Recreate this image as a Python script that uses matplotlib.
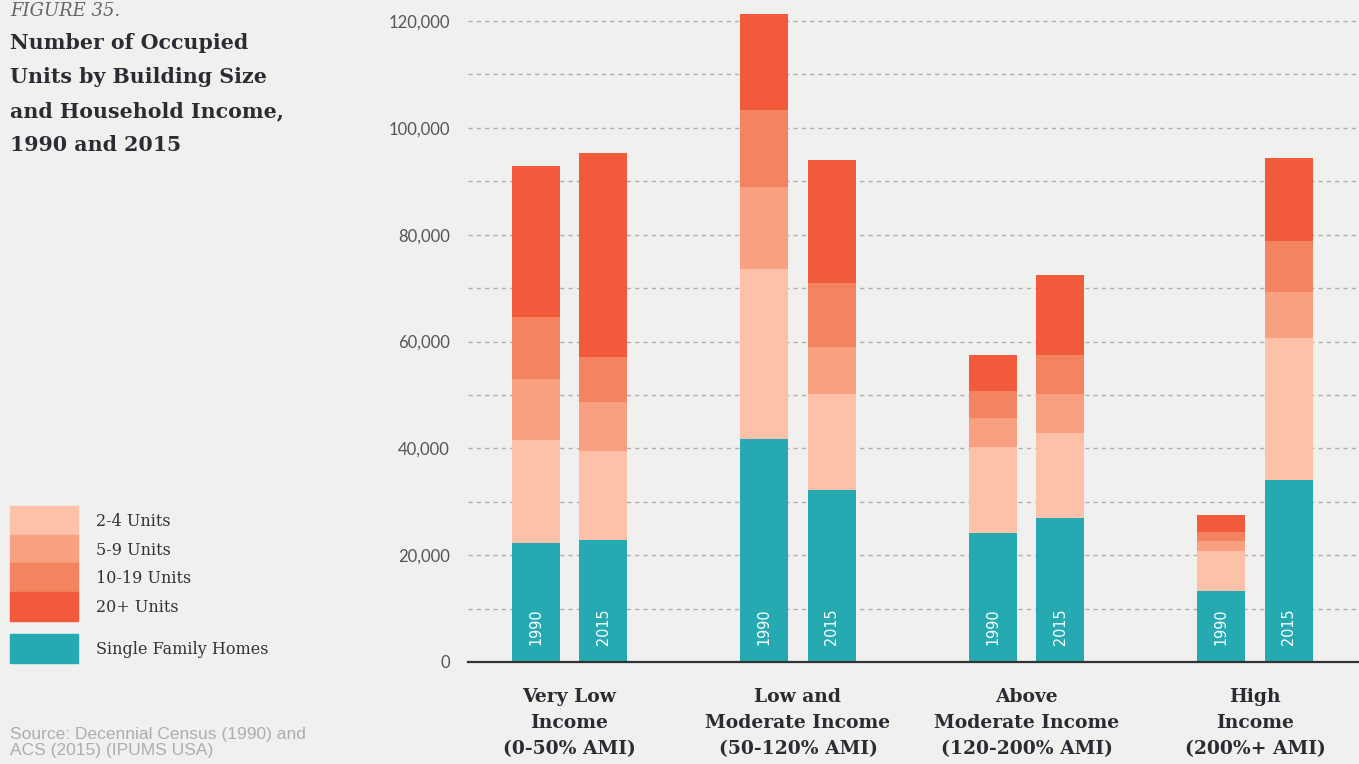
import numpy as np
import matplotlib
matplotlib.use('Agg')
import matplotlib.pyplot as plt
from matplotlib.patches import Rectangle

# Data
groups = ['Very Low\nIncome\n(0-50% AMI)', 'Low and\nModerate Income\n(50-120% AMI)',
          'Above\nModerate Income\n(120-200% AMI)', 'High\nIncome\n(200%+ AMI)']
years = ['1990', '2015']
series = ['Single Family Homes', '2-4 Units', '5-9 Units', '10-19 Units', '20+ Units']
colors = ['#26AAB2', '#FCC1A8', '#F8A080', '#F48460', '#F15A3B']

sf_1990 = [22300, 41700, 24200, 13300]
u24_1990 = [19300, 31800, 16100, 7500]
u59_1990 = [11400, 15400, 5400, 1900]
u1019_1990 = [11600, 14400, 5000, 1700]
u20_1990 = [28300, 18000, 6800, 3200]

sf_2015 = [22900, 32200, 27000, 34100]
u24_2015 = [16600, 17900, 15800, 26600]
u59_2015 = [9200, 8800, 7400, 8600]
u1019_2015 = [8400, 12100, 7300, 9600]
u20_2015 = [38200, 22900, 14900, 15500]

data = {
    '1990': [sf_1990, u24_1990, u59_1990, u1019_1990, u20_1990],
    '2015': [sf_2015, u24_2015, u59_2015, u1019_2015, u20_2015],
}

bg = '#F0F0EE'
fig = plt.figure(figsize=(13.59, 7.64), dpi=100, facecolor=bg)
ax = fig.add_axes([468 / 1359, 102 / 764, 891 / 1359, 657 / 764], facecolor=bg)

x = np.arange(len(groups))
width = 0.21
offsets = {'1990': -0.148, '2015': 0.148}

for yr in years:
    bottom = np.zeros(len(groups))
    for vals, c in zip(data[yr], colors):
        ax.bar(x + offsets[yr], vals, width, bottom=bottom, color=c, edgecolor='none', zorder=3)
        bottom += np.array(vals)
    for xi in x:
        ax.text(xi + offsets[yr], 6600, yr, rotation=90, ha='center', va='center',
                color='white', fontsize=11.5, family='DejaVu Sans', stretch='condensed', zorder=4)

ax.set_xlim(-0.444, 3.455)
ax.set_ylim(0, 123000)

yt = list(range(0, 130000, 10000))
ax.set_yticks(yt)
ax.set_yticklabels([f'{v:,}' if v % 20000 == 0 else '' for v in yt],
                   fontsize=12, color='#555555', family='Lato')
ax.tick_params(axis='y', length=0, pad=13)
for v in yt[1:]:
    ax.axhline(v, color='#AEAEAE', lw=1, ls=(0, (3, 3)), zorder=1)

ax.set_xticks(x)
ax.set_xticklabels(groups, fontsize=13.5, fontweight='bold', family='DejaVu Serif',
                   color='#2B2B33', linespacing=1.55)
ax.tick_params(axis='x', length=0, pad=19)

for s in ['top', 'right', 'left']:
    ax.spines[s].set_visible(False)
ax.spines['bottom'].set_color('#333333')
ax.spines['bottom'].set_linewidth(1.6)
ax.spines['bottom'].set_zorder(5)

# Title block
fig.text(10 / 1359, 1 - 2 / 764, 'FIGURE 35.', fontsize=13, style='italic', color='#666666',
         family='DejaVu Serif', va='top', ha='left')
fig.text(10 / 1359, 1 - 33 / 764, 'Number of Occupied\nUnits by Building Size\nand Household Income,\n1990 and 2015',
         fontsize=14.8, fontweight='bold', color='#2B2B33', family='DejaVu Serif',
         va='top', ha='left', linespacing=1.88)

# Legend
leg_items = [('2-4 Units', colors[1], 506), ('5-9 Units', colors[2], 535),
             ('10-19 Units', colors[3], 563), ('20+ Units', colors[4], 592),
             ('Single Family Homes', colors[0], 634)]
for label, c, top in leg_items:
    h = 29
    fig.patches.append(Rectangle((10 / 1359, 1 - (top + h) / 764), 68 / 1359, h / 764,
                                 transform=fig.transFigure, color=c, figure=fig))
    fig.text(96 / 1359, 1 - (top + h / 2 + 1) / 764, label, fontsize=11.5, color='#333333',
             family='DejaVu Serif', va='center', ha='left')

fig.text(10 / 1359, 1 - 727 / 764, 'Source: Decennial Census (1990) and\nACS (2015) (IPUMS USA)',
         fontsize=12.5, color='#ADADAD', family='Liberation Sans', va='top', ha='left',
         linespacing=1.1)

fig.savefig('out.png', dpi=100, facecolor=bg)
